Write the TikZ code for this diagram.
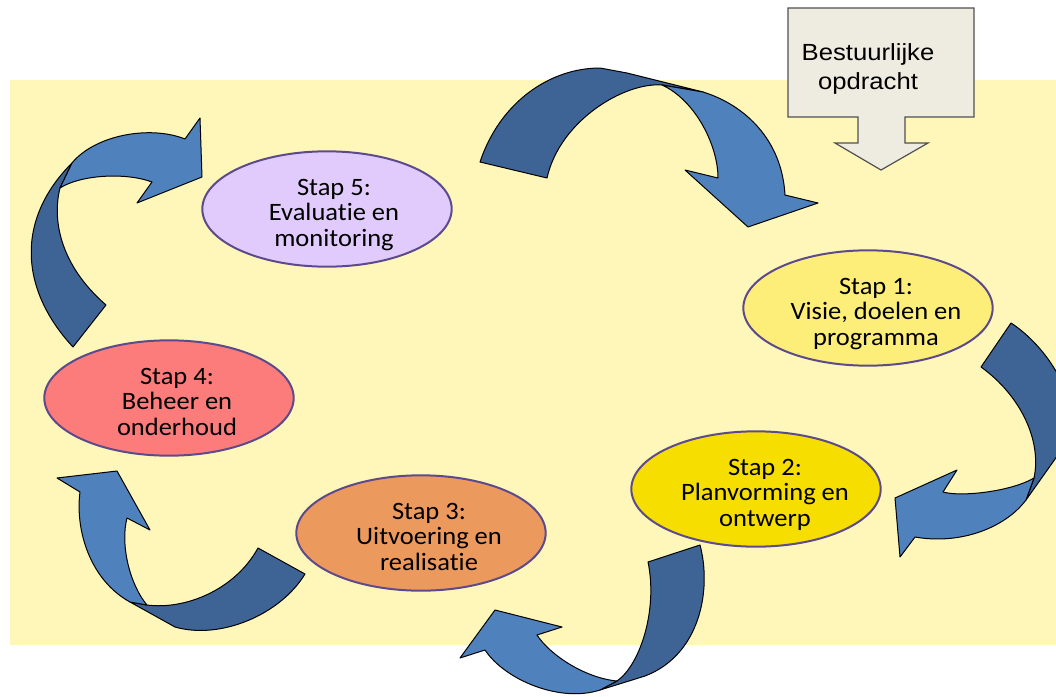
\documentclass[tikz,border=0pt]{standalone}
\usepackage{fontspec}
\usetikzlibrary{shapes.geometric}
\newfontfamily\stapfam[FakeStretch=1.06,Ligatures=NoCommon]{Carlito}
\newfontfamily\boxfam[FakeStretch=1.1]{Liberation Sans}
\definecolor{bgyellow}{RGB}{255,247,185}
\definecolor{arrdark}{RGB}{62,100,150}
\definecolor{arrlight}{RGB}{79,129,189}
\definecolor{stapedge}{RGB}{92,74,140}
\definecolor{fillfive}{RGB}{225,203,252}
\definecolor{fillone}{RGB}{252,238,120}
\definecolor{filltwo}{RGB}{245,222,0}
\definecolor{fillthree}{RGB}{236,153,94}
\definecolor{fillfour}{RGB}{252,124,124}
\definecolor{boxfill}{RGB}{238,236,225}
\definecolor{boxedge}{RGB}{80,80,80}
\begin{document}
\begin{tikzpicture}[x=0.75pt,y=-0.75pt,
  band/.style={draw=black, line width=0.75pt, line join=round},
  darkband/.style={band, fill=arrdark},
  lightband/.style={band, fill=arrlight},
  stapshape/.style={ellipse, draw=stapedge, line width=1.5pt, minimum width=187pt, minimum height=86.5pt, inner sep=0pt},
  staptxt/.style={align=center, inner sep=0pt, text depth=3.75pt, font={\stapfam\fontsize{18.75pt}{19.1pt}\selectfont}},
  boxtxt/.style={align=center, inner sep=0pt, font={\boxfam\fontsize{17.5pt}{21.75pt}\selectfont}}
]
\useasboundingbox (0,0) rectangle (1056,696);
\clip (0,0) rectangle (1056,696);
\fill[white] (0,0) rectangle (1056,696);
\fill[bgyellow] (10,80) rectangle (1056,645);

% Bestuurlijke opdracht callout
\draw[fill=boxfill, draw=boxedge, line width=0.9pt, line join=miter]
  (788,8) -- (974,8) -- (974,117) -- (905,117) -- (905,143) -- (928,143) -- (881,170)
  -- (835,143) -- (858,143) -- (858,117) -- (788,117) -- cycle;
\node[boxtxt] (box) at (868,69) {Bestuurlijke\\opdracht};

% arrow 5 -> 1 (top)
\draw[darkband] (480,162) .. controls (500,102) and (550,68) .. (600,68) -- (627,73) -- (703,92)
  -- (662,85) .. controls (625,82) and (560,120) .. (547,178) -- cycle;
\draw[lightband] (662,85) -- (703,92) .. controls (745,105) and (782,140) .. (785,195)
  -- (818,203) -- (748,227) -- (685,170) -- (718,178) .. controls (718,145) and (695,100) .. (662,85) -- cycle;

% arrow 1 -> 2 (right)
\draw[darkband] (981,367) -- (1011,323) .. controls (1045,345) and (1085,400) .. (1065,445)
  -- (1026,500) -- (1034,478) .. controls (1042,440) and (1020,395) .. (981,367) -- cycle;
\draw[lightband] (1034,478) -- (1026,500) .. controls (1005,528) and (960,545) .. (915,537)
  -- (900,557) -- (895,498) -- (957,470) -- (943,492) .. controls (960,497) and (1010,492) .. (1034,478) -- cycle;

% arrow 2 -> 3 (bottom)
\draw[darkband] (648,562) -- (700,545) .. controls (712,590) and (700,655) .. (645,676)
  -- (600,690) -- (617,681) .. controls (640,665) and (658,610) .. (648,562) -- cycle;
\draw[lightband] (617,681) -- (600,690) .. controls (560,703) and (505,680) .. (485,650)
  -- (460,658) -- (495,610) -- (562,627) -- (537,635) .. controls (550,655) and (585,678) .. (617,681) -- cycle;

% arrow 3 -> 4 (bottom left)
\draw[darkband] (258,548) -- (305,574) .. controls (280,615) and (220,640) .. (175,627)
  -- (130,602) -- (147,605) .. controls (185,610) and (235,590) .. (258,548) -- cycle;
\draw[lightband] (147,605) -- (130,602) .. controls (90,580) and (75,530) .. (80,492)
  -- (57,478) -- (117,471) -- (150,530) -- (127,518) .. controls (120,545) and (130,585) .. (147,605) -- cycle;

% arrow 4 -> 5 (left)
\draw[darkband] (106,305) -- (73,347) .. controls (20,290) and (15,220) .. (72,163)
  -- (60,188) .. controls (52,220) and (60,265) .. (106,305) -- cycle;
\draw[lightband] (60,188) -- (72,163) .. controls (95,135) and (150,125) .. (185,139)
  -- (200,118) -- (202,177) -- (137,203) -- (152,182) .. controls (125,172) and (80,175) .. (60,188) -- cycle;

% steps
\node[stapshape, fill=fillfive]  (s5) at (327,209) {};
\node[stapshape, fill=fillone]   (s1) at (868,308) {};
\node[stapshape, fill=filltwo]   (s2) at (756,489) {};
\node[stapshape, fill=fillthree] (s3) at (421,533) {};
\node[stapshape, fill=fillfour]  (s4) at (169,398) {};

\node[staptxt] (t5) at ([shift={(7,6)}]s5.center) {Stap 5:\\Evaluatie en\\monitoring};
\node[staptxt] (t1) at ([shift={(8,6)}]s1.center) {Stap 1:\\Visie, doelen en\\programma};
\node[staptxt] (t2) at ([shift={(9,6)}]s2.center) {Stap 2:\\Planvorming en\\ontwerp};
\node[staptxt] (t3) at ([shift={(8,6)}]s3.center) {Stap 3:\\Uitvoering en\\realisatie};
\node[staptxt] (t4) at ([shift={(8,6)}]s4.center) {Stap 4:\\Beheer en\\onderhoud};
\end{tikzpicture}
\end{document}
